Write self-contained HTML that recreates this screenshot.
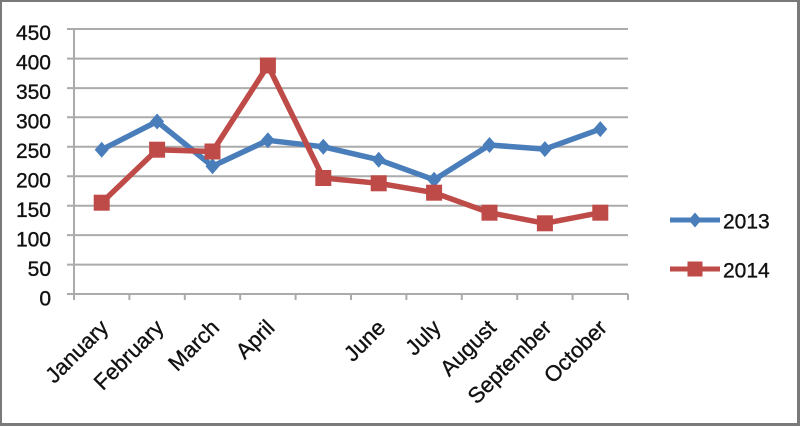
<!DOCTYPE html>
<html>
<head>
<meta charset="utf-8">
<style>
html,body{margin:0;padding:0;background:#fff;}
body{width:800px;height:426px;overflow:hidden;}
svg{display:block;}
text{font-family:"Liberation Sans",Arial,sans-serif;fill:#111;stroke:#111;stroke-width:0.35;}
</style>
</head>
<body>
<svg width="800" height="426" viewBox="0 0 800 426" xmlns="http://www.w3.org/2000/svg">
  <rect x="0" y="0" width="800" height="426" fill="#fff"/>
  <!-- border -->
  <rect x="1" y="1" width="797" height="423" fill="none" stroke="#7a7a7a" stroke-width="2"/>
  <line x1="798.5" y1="0" x2="798.5" y2="426" stroke="#7a7a7a" stroke-width="3"/>
  <line x1="0" y1="424.5" x2="800" y2="424.5" stroke="#7a7a7a" stroke-width="3"/>

  <!-- gridlines -->
  <g stroke="#ababab" stroke-width="2">
    <line x1="67" y1="29" x2="628" y2="29"/>
    <line x1="67" y1="58.6" x2="628" y2="58.6"/>
    <line x1="67" y1="88.1" x2="628" y2="88.1"/>
    <line x1="67" y1="117.3" x2="628" y2="117.3"/>
    <line x1="67" y1="146.8" x2="628" y2="146.8"/>
    <line x1="67" y1="176.2" x2="628" y2="176.2"/>
    <line x1="67" y1="205.7" x2="628" y2="205.7"/>
    <line x1="67" y1="235.1" x2="628" y2="235.1"/>
    <line x1="67" y1="264.6" x2="628" y2="264.6"/>
    <line x1="67" y1="294" x2="628" y2="294"/>
    <!-- y axis -->
    <line x1="74" y1="29" x2="74" y2="294"/>
    <!-- x ticks -->
    <line x1="74" y1="294" x2="74" y2="300"/>
    <line x1="129.4" y1="294" x2="129.4" y2="300"/>
    <line x1="184.8" y1="294" x2="184.8" y2="300"/>
    <line x1="240.2" y1="294" x2="240.2" y2="300"/>
    <line x1="295.6" y1="294" x2="295.6" y2="300"/>
    <line x1="351" y1="294" x2="351" y2="300"/>
    <line x1="406.4" y1="294" x2="406.4" y2="300"/>
    <line x1="461.8" y1="294" x2="461.8" y2="300"/>
    <line x1="517.2" y1="294" x2="517.2" y2="300"/>
    <line x1="572.6" y1="294" x2="572.6" y2="300"/>
    <line x1="628" y1="294" x2="628" y2="300"/>
  </g>

  <!-- y labels -->
  <g font-size="21" text-anchor="end">
    <text x="51" y="40">450</text>
    <text x="51" y="69.5">400</text>
    <text x="51" y="99">350</text>
    <text x="51" y="128.5">300</text>
    <text x="51" y="158">250</text>
    <text x="51" y="187.5">200</text>
    <text x="51" y="217">150</text>
    <text x="51" y="246.5">100</text>
    <text x="51" y="276">50</text>
    <text x="51" y="305.5">0</text>
  </g>

  <!-- x labels -->
  <g font-size="22" text-anchor="end">
    <text x="109.7" y="329" transform="rotate(-45 109.7 329)">January</text>
    <text x="165.1" y="329" transform="rotate(-45 165.1 329)">February</text>
    <text x="220.5" y="329" transform="rotate(-45 220.5 329)">March</text>
    <text x="275.9" y="329" transform="rotate(-45 275.9 329)">April</text>
    <text x="386.7" y="329" transform="rotate(-45 386.7 329)">June</text>
    <text x="442.1" y="329" transform="rotate(-45 442.1 329)">July</text>
    <text x="497.5" y="329" transform="rotate(-45 497.5 329)">August</text>
    <text x="552.9" y="329" transform="rotate(-45 552.9 329)">September</text>
    <text x="608.3" y="329" transform="rotate(-45 608.3 329)">October</text>
  </g>

  <!-- 2013 series -->
  <polyline fill="none" stroke="#4a7ebb" stroke-width="5.5" stroke-linejoin="round"
    points="101.7,149.7 157.1,121.5 212.5,166.2 267.9,140.3 323.3,146.8 378.7,159.7 434.1,179.8 489.5,145 544.9,149.1 600.3,129.1"/>
  <g fill="#4a7ebb">
    <polygon points="101.7,141.7 108.7,149.7 101.7,157.7 94.7,149.7"/>
    <polygon points="157.1,113.5 164.1,121.5 157.1,129.5 150.1,121.5"/>
    <polygon points="212.5,158.2 219.5,166.2 212.5,174.2 205.5,166.2"/>
    <polygon points="267.9,132.3 274.9,140.3 267.9,148.3 260.9,140.3"/>
    <polygon points="323.3,138.8 330.3,146.8 323.3,154.8 316.3,146.8"/>
    <polygon points="378.7,151.7 385.7,159.7 378.7,167.7 371.7,159.7"/>
    <polygon points="434.1,171.8 441.1,179.8 434.1,187.8 427.1,179.8"/>
    <polygon points="489.5,137 496.5,145 489.5,153 482.5,145"/>
    <polygon points="544.9,141.1 551.9,149.1 544.9,157.1 537.9,149.1"/>
    <polygon points="600.3,121.1 607.3,129.1 600.3,137.1 593.3,129.1"/>
  </g>

  <!-- 2014 series -->
  <polyline fill="none" stroke="#be4b48" stroke-width="5.5" stroke-linejoin="round"
    points="101.7,202.7 157.1,149.7 212.5,151.5 267.9,65.5 323.3,178 378.7,183.3 434.1,192.7 489.5,212.7 544.9,223.3 600.3,212.7"/>
  <g fill="#be4b48">
    <rect x="93.7" y="194.7" width="16" height="16"/>
    <rect x="149.1" y="141.7" width="16" height="16"/>
    <rect x="204.5" y="143.5" width="16" height="16"/>
    <rect x="259.9" y="57.5" width="16" height="16"/>
    <rect x="315.3" y="170" width="16" height="16"/>
    <rect x="370.7" y="175.3" width="16" height="16"/>
    <rect x="426.1" y="184.7" width="16" height="16"/>
    <rect x="481.5" y="204.7" width="16" height="16"/>
    <rect x="536.9" y="215.3" width="16" height="16"/>
    <rect x="592.3" y="204.7" width="16" height="16"/>
  </g>

  <!-- legend -->
  <line x1="670" y1="220" x2="720" y2="220" stroke="#4a7ebb" stroke-width="5"/>
  <polygon points="695,212.5 701.5,220 695,227.5 688.5,220" fill="#4a7ebb"/>
  <text x="723" y="228.5" font-size="21">2013</text>
  <line x1="670" y1="269" x2="720" y2="269" stroke="#be4b48" stroke-width="5"/>
  <rect x="687.5" y="261.5" width="15" height="15" fill="#be4b48"/>
  <text x="723" y="277.5" font-size="21">2014</text>
</svg>
</body>
</html>
